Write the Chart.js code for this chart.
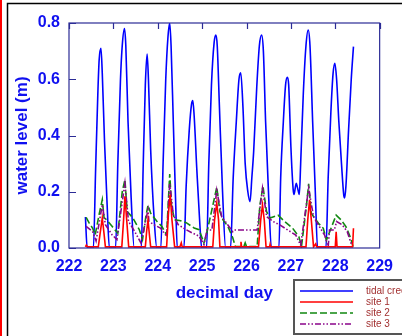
<!DOCTYPE html>
<html>
<head>
<meta charset="utf-8">
<script src="https://cdn.jsdelivr.net/npm/chart.js@4.4.1/dist/chart.umd.min.js"></script>
<style>
  html, body { margin: 0; padding: 0; background: #fff; }
  #myChart { display: block; }
</style>
</head>
<body>
<canvas id="myChart" width="402" height="336"></canvas>
<script>
// setup
const dayTicks = [222, 223, 224, 225, 226, 227, 228, 229];
const levelTicks = [0, 0.2, 0.4, 0.6, 0.8];
const seriesNames = ['tidal creek', 'site 1', 'site 2', 'site 3'];

const creekDay = [222.37, 222.41, 222.55, 222.60, 222.65, 222.68, 222.72, 222.75, 222.80, 222.86, 222.91,
  223.05, 223.10, 223.16, 223.20, 223.25, 223.28, 223.33, 223.40, 223.47,
  223.63, 223.67, 223.72, 223.76, 223.79, 223.84, 223.92, 223.98,
  224.07, 224.12, 224.18, 224.23, 224.27, 224.30, 224.35, 224.40, 224.44,
  224.59, 224.64, 224.71, 224.76, 224.79, 224.82, 224.88, 224.95, 224.99,
  225.10, 225.15, 225.21, 225.27, 225.31, 225.34, 225.39, 225.46, 225.53,
  225.64, 225.70, 225.77, 225.83, 225.87, 225.92, 225.97, 226.03, 226.08,
  226.12, 226.16, 226.23, 226.29, 226.34, 226.38, 226.43, 226.50, 226.56,
  226.73, 226.77, 226.83, 226.88, 226.92, 226.95, 227.00, 227.05, 227.07, 227.12, 227.14, 227.17, 227.19,
  227.22, 227.28, 227.34, 227.39, 227.43, 227.49, 227.55, 227.60,
  227.79, 227.84, 227.90, 227.95, 227.99, 228.03, 228.08, 228.14, 228.19, 228.21,
  228.24, 228.30, 228.36, 228.41];
const creekLevel = [0.11, 0.0, 0.0, 0.28, 0.55, 0.67, 0.71, 0.62, 0.38, 0.15, 0.0,
  0.0, 0.30, 0.60, 0.72, 0.78, 0.72, 0.45, 0.18, 0.0,
  0.0, 0.28, 0.58, 0.69, 0.60, 0.35, 0.10, 0.0,
  0.0, 0.30, 0.60, 0.75, 0.80, 0.72, 0.45, 0.18, 0.0,
  0.0, 0.22, 0.42, 0.51, 0.524, 0.47, 0.28, 0.08, 0.0,
  0.0, 0.30, 0.58, 0.73, 0.757, 0.72, 0.50, 0.20, 0.0,
  0.0, 0.25, 0.45, 0.60, 0.623, 0.50, 0.30, 0.20, 0.165,
  0.25, 0.34, 0.57, 0.72, 0.757, 0.70, 0.45, 0.18, 0.0,
  0.0, 0.25, 0.45, 0.58, 0.607, 0.58, 0.36, 0.21, 0.19, 0.23, 0.22, 0.20, 0.19,
  0.30, 0.55, 0.72, 0.775, 0.72, 0.45, 0.20, 0.0,
  0.0, 0.25, 0.48, 0.62, 0.657, 0.60, 0.45, 0.30, 0.19, 0.178,
  0.22, 0.42, 0.60, 0.716];

const site1Day = [222.37, 222.39, 222.42, 222.66, 222.70, 222.75, 222.79, 222.82,
  223.19, 223.23, 223.26, 223.30, 223.345, 223.72, 223.75, 223.78, 223.81, 223.84,
  224.20, 224.24, 224.28, 224.32, 224.38, 224.50, 224.53, 224.55,
  225.24, 225.28, 225.33, 225.37, 225.40, 225.86, 225.875, 225.89,
  226.27, 226.32, 226.36, 226.40, 226.44, 226.52, 226.53, 226.54,
  227.34, 227.38, 227.42, 227.46, 227.51, 227.56, 227.58,
  228.00, 228.02, 228.04, 228.39, 228.41];
const site1Level = [0.004, 0.01, 0.004, 0.004, 0.05, 0.107, 0.05, 0.004,
  0.004, 0.10, 0.184, 0.10, 0.004, 0.004, 0.06, 0.10, 0.05, 0.004,
  0.004, 0.12, 0.19, 0.10, 0.004, 0.004, 0.018, 0.004,
  0.004, 0.10, 0.16, 0.10, 0.004, 0.004, 0.022, 0.004,
  0.004, 0.10, 0.153, 0.10, 0.004, 0.004, 0.012, 0.004,
  0.004, 0.10, 0.171, 0.10, 0.004, 0.015, 0.004,
  0.004, 0.058, 0.004, 0.004, 0.07];

const site2Day = [222.386, 222.45, 222.53, 222.59, 222.68, 222.75, 222.79, 222.85, 222.97, 223.10,
  223.20, 223.26, 223.31, 223.44, 223.585, 223.657, 223.73, 223.78, 223.84, 223.98, 224.09, 224.20,
  224.27, 224.31, 224.38, 224.49, 224.64, 224.82, 224.93, 225.04, 225.10,
  225.33, 225.40, 225.47, 225.58, 225.69, 225.75, 225.94, 225.97, 226.00, 226.24,
  226.30, 226.37, 226.45, 226.53, 226.71, 226.86, 227.04, 227.18, 227.24,
  227.35, 227.40, 227.46, 227.62, 227.73, 227.80, 228.02, 228.13, 228.24, 228.35, 228.40];
const site2Level = [0.109, 0.09, 0.071, 0.047, 0.12, 0.172, 0.107, 0.10, 0.077, 0.053,
  0.20, 0.243, 0.13, 0.107, 0.065, 0.03, 0.11, 0.152, 0.124, 0.095, 0.077, 0.047,
  0.263, 0.15, 0.10, 0.098, 0.09, 0.071, 0.065, 0.018, 0.05,
  0.216, 0.13, 0.10, 0.077, 0.036, 0.005, 0.005, 0.018, 0.005, 0.005,
  0.15, 0.22, 0.13, 0.107, 0.117, 0.094, 0.07, 0.04, 0.007,
  0.15, 0.228, 0.123, 0.088, 0.07, 0.028, 0.117, 0.10, 0.076, 0.034, 0.005];

const site3Day = [222.386, 222.53, 222.61, 222.75, 222.82, 222.97, 223.08, 223.26, 223.34, 223.48, 223.62,
  223.78, 223.80, 223.91, 224.06, 224.20, 224.27, 224.35, 224.46, 224.64, 224.785, 224.93, 225.04,
  225.11, 225.22, 225.33, 225.44, 225.58, 225.69, 225.73, 226.24, 226.36, 226.455, 226.60, 226.75,
  226.93, 227.11, 227.22, 227.40, 227.51, 227.62, 227.76, 227.84, 227.87, 227.98, 228.03, 228.16,
  228.27, 228.37];
const site3Level = [0.077, 0.059, 0.025, 0.154, 0.083, 0.047, 0.03, 0.231, 0.095, 0.059, 0.018,
  0.136, 0.095, 0.083, 0.071, 0.042, 0.231, 0.118, 0.083, 0.065, 0.053, 0.042, 0.012,
  0.064, 0.064, 0.205, 0.111, 0.082, 0.058, 0.064, 0.064, 0.212, 0.111, 0.094, 0.082,
  0.064, 0.046, 0.01, 0.212, 0.111, 0.082, 0.046, 0.005, 0.064, 0.064, 0.094, 0.082,
  0.058, 0.01];

const pairs = (xs, ys) => xs.map((x, i) => ({ x: x, y: ys[i] }));

const data = {
  datasets: [{
    label: seriesNames[0],
    data: pairs(creekDay, creekLevel),
    borderColor: '#0000ff',
    borderWidth: 1.6,
    cubicInterpolationMode: 'monotone',
    order: 4
  }, {
    label: seriesNames[1],
    data: pairs(site1Day, site1Level),
    borderColor: '#ff0000',
    borderWidth: 1.6,
    order: 1
  }, {
    label: seriesNames[2],
    data: pairs(site2Day, site2Level),
    borderColor: '#118811',
    borderWidth: 1.6,
    borderDash: [7, 3],
    order: 3
  }, {
    label: seriesNames[3],
    data: pairs(site3Day, site3Level),
    borderColor: '#8a058a',
    borderWidth: 1.6,
    borderDash: [6, 2, 1.5, 2, 1.5, 2],
    order: 2
  }]
};

const frameColor = '#2c2c96';
const labelBlue = '#1010f0';

// page decoration, inward ticks and the boxed legend
const decor = {
  id: 'decor',
  beforeDraw(chart) {
    const ctx = chart.ctx;
    ctx.save();
    ctx.fillStyle = '#fff';
    ctx.fillRect(0, 0, chart.width, chart.height);
    ctx.strokeStyle = '#ff0000';
    ctx.lineWidth = 2;
    ctx.beginPath(); ctx.moveTo(1, 0); ctx.lineTo(1, chart.height); ctx.stroke();
    ctx.strokeStyle = '#000';
    ctx.lineWidth = 1.5;
    ctx.beginPath();
    ctx.moveTo(7.5, chart.height); ctx.lineTo(7.5, 3.5); ctx.lineTo(chart.width, 3.5);
    ctx.stroke();
    ctx.restore();
  },
  afterDraw(chart) {
    const ctx = chart.ctx;
    const a = chart.chartArea;
    const xs = chart.scales.x, ys = chart.scales.y;
    ctx.save();
    ctx.strokeStyle = frameColor;
    ctx.lineWidth = 1.2;
    ctx.strokeRect(a.left, a.top, a.right - a.left, a.bottom - a.top);
    ctx.beginPath();
    levelTicks.forEach(v => {
      const y = Math.round(ys.getPixelForValue(v)) + 0.5;
      ctx.moveTo(a.left, y); ctx.lineTo(a.left + 7, y);
    });
    dayTicks.forEach(v => {
      const x = Math.round(xs.getPixelForValue(v)) + 0.5;
      ctx.moveTo(x, a.top); ctx.lineTo(x, a.top + 6);
    });
    ctx.stroke();

    // legend box
    const bx = 294, by = 280;
    ctx.fillStyle = '#fff';
    ctx.fillRect(bx, by, chart.width - bx, 54);
    ctx.strokeStyle = '#555';
    ctx.lineWidth = 2;
    ctx.strokeRect(bx, by, chart.width - bx + 4, 54);
    ctx.font = '10px Arial, "Liberation Sans", sans-serif';
    ctx.textBaseline = 'middle';
    chart.data.datasets.forEach((ds, i) => {
      const y = 291 + i * 11;
      ctx.strokeStyle = ds.borderColor;
      ctx.lineWidth = 1.6;
      ctx.setLineDash(ds.borderDash || []);
      ctx.beginPath(); ctx.moveTo(300, y); ctx.lineTo(353, y); ctx.stroke();
      ctx.setLineDash([]);
      ctx.fillStyle = '#a23030';
      ctx.fillText(ds.label, 366, y);
    });
    ctx.restore();
  }
};

// config
const config = {
  type: 'line',
  data,
  options: {
    responsive: false,
    animation: false,
    layout: { padding: { left: 0, right: 12, top: 23, bottom: 0 } },
    elements: { point: { radius: 0 }, line: { tension: 0, fill: false } },
    plugins: { legend: { display: false }, tooltip: { enabled: false } },
    scales: {
      x: {
        type: 'linear',
        min: 222, max: 229,
        afterBuildTicks: s => { s.ticks = dayTicks.map(v => ({ value: v })); },
        afterFit: s => { s.height = 88; },
        grid: { display: false, drawTicks: false },
        border: { display: false },
        ticks: {
          padding: 9,
          color: labelBlue,
          font: { family: 'Arial, "Liberation Sans", sans-serif', size: 16, weight: 'bold' },
          maxRotation: 0,
          callback: v => String(v)
        },
        title: {
          display: true,
          text: 'decimal day',
          color: labelBlue,
          padding: { top: 0, bottom: 32 },
          font: { family: 'Arial, "Liberation Sans", sans-serif', size: 17, weight: 'bold' }
        }
      },
      y: {
        min: 0, max: 0.8,
        afterBuildTicks: s => { s.ticks = levelTicks.map(v => ({ value: v })); },
        afterFit: s => { s.width = 69; },
        grid: { display: false, drawTicks: false },
        border: { display: false },
        ticks: {
          padding: 9,
          color: labelBlue,
          font: { family: 'Arial, "Liberation Sans", sans-serif', size: 16, weight: 'bold' },
          callback: v => v.toFixed(1)
        },
        title: {
          display: true,
          text: 'water level (m)',
          color: labelBlue,
          padding: { top: 12, bottom: 0 },
          font: { family: 'Arial, "Liberation Sans", sans-serif', size: 17, weight: 'bold' }
        }
      }
    }
  },
  plugins: [decor]
};

// render init block
const myChart = new Chart(document.getElementById('myChart'), config);
</script>
</body>
</html>
